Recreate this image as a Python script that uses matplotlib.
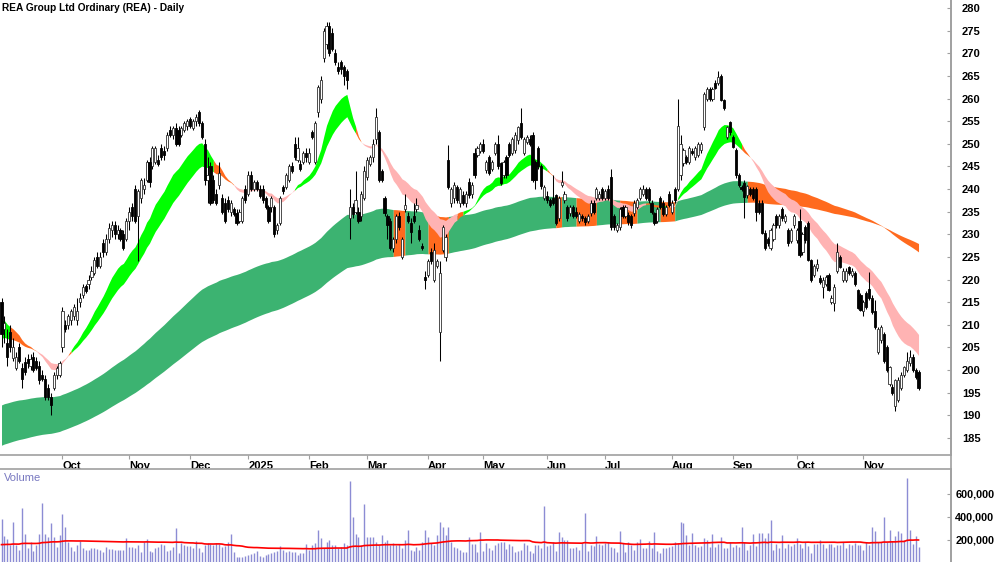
import numpy as np
import pandas as pd
import matplotlib
matplotlib.use('Agg')
import matplotlib.pyplot as plt
from matplotlib.lines import Line2D

plt.rcParams['font.family'] = ['Liberation Sans', 'DejaVu Sans']

title = 'REA Group Ltd Ordinary (REA) - Daily'
first_day, last_day = '2024-09-02', '2025-11-28'
asx_holidays = ['2024-12-25', '2024-12-26', '2025-01-01', '2025-01-27',
                '2025-04-18', '2025-04-21', '2025-04-25', '2025-06-09']

# daily OHLC, one row per month (Sep 2024 .. Nov 2025)
opens = [
    215, 209, 206, 208.5, 202.7, 200.5, 205, 200.5, 201.8, 202.5, 201, 203, 202, 201, 199, 198, 196, 194, 196, 199, 199,
    205, 210, 210, 211, 212, 211, 215, 216.6, 218.5, 219, 220.6, 221.4, 225, 223, 228, 226, 229, 231, 232, 230, 231, 230, 229,
    233, 236, 240, 234, 238, 240, 242, 246, 245, 246, 246.5, 249, 248.5, 249, 253, 252, 253.5, 253, 252, 253, 254,
    255.5, 253.5, 255, 257, 254.5, 250, 242, 245, 242, 239, 241, 238, 237, 237.5, 235, 235.5, 234.6, 233, 233, 240,
    239, 243, 240, 241.5, 240, 240, 238, 236, 236, 236, 231, 232.5, 240.5, 240.5, 242, 245, 250, 246.5, 245.5, 246, 248,
    246, 252.5, 246, 257, 260, 269, 272, 276, 274.5, 270, 267, 268, 267, 266, 233.5, 236, 235, 235, 234, 238,
    242.7, 245.5, 247, 251, 252.6, 244, 238, 234, 233, 227, 229, 234, 225, 235.5, 234, 232.5, 234, 235.5, 231, 227.5, 220.5,
    221, 226, 220, 223, 208.5, 226.5, 225, 246.4, 237, 238, 240.5, 237, 238.6, 237, 241.5, 239, 248, 247.5, 248.5,
    250, 244.2, 247, 244.5, 248, 250, 245.7, 243, 247, 250, 248, 248.6, 250.8, 254.6, 248, 250.5, 251, 252, 246, 249, 245, 238,
    238.5, 237.5, 238, 238.7, 233.6, 241, 237.5, 236, 234.7, 236, 235, 233, 234, 233.5, 233, 234.7, 237, 238, 238, 240,
    238, 240, 242.6, 234, 231, 231.6, 236, 234, 234.3, 234, 234.7, 236, 238, 239, 240, 240, 237, 234.7, 233, 238, 237, 234.5, 239,
    235, 240, 240, 243, 245.8, 247, 246, 248.5, 247, 247.5, 248.6, 253.7, 260, 262, 260, 263.4, 263.4, 265, 259.7, 251.5, 254.8,
    251.5, 248.6, 243, 240.5, 241.4, 238.7, 240, 240, 240, 237, 237, 230.3, 229, 227, 229, 234, 232, 235.5, 233, 231, 228.5, 232,
    228.7, 233, 226, 231.6, 232.5, 224.3, 221, 222.5, 220.3, 218.4, 219, 221, 215, 214.8, 222, 225, 220, 220, 222.8, 221, 221.4, 217.7, 216.6,
    213, 217, 218, 216, 213, 204, 206.6, 208, 205, 197, 196.3, 192, 193.4, 196, 199, 200, 201.5, 203, 200, 199.5,
]
highs = [
    216, 212, 209, 210, 207, 204, 206, 201.5, 203, 203.5, 203.5, 204, 203, 202, 200, 199, 197, 195, 199.5, 201, 202,
    214, 211, 212.5, 213.5, 214.5, 216, 217, 219, 219, 221, 223, 225, 226, 226, 229, 230, 232.5, 233, 233, 232, 231.5, 231, 233.5,
    236, 237, 241, 240, 242.5, 242.5, 246.5, 247, 249.5, 249.5, 247.5, 250, 249.5, 252.5, 254, 254, 254.5, 254, 254, 255, 255.5,
    256, 255.5, 256.5, 257.5, 255, 251, 247, 246, 243, 240, 246, 239, 238, 238.5, 237.5, 236, 235.5, 235.5, 238.5, 241,
    244, 244, 242, 242, 241, 241, 238.5, 236.5, 238.5, 236.5, 232.5, 238.5, 241, 243.5, 245.5, 246, 251.5, 251.5, 246.5, 248.5, 249,
    249, 253, 255, 263, 265, 275.5, 277, 277, 275.5, 271, 268, 268.5, 267.5, 266.5, 240, 237, 244, 236, 239.5, 245,
    247, 247.5, 251, 258, 253, 244.5, 238.5, 234.5, 233.5, 229.5, 234.5, 235, 229.5, 239, 235, 233.5, 237, 238, 232, 228, 222,
    224.5, 227, 228, 224.5, 224, 232, 230, 249.7, 240.5, 241.5, 241, 240.5, 239.5, 239.5, 242.5, 241.5, 249, 249.5, 250.5,
    251, 246.5, 247.5, 246.5, 250.5, 252, 246, 246.5, 247.5, 250.5, 251.5, 252.5, 254, 258, 251.5, 252, 252, 252.5, 246.5, 249.5, 245.5, 241,
    239.5, 238, 243, 239, 238.5, 244, 239.5, 236.5, 236.5, 236.5, 236, 235, 234.5, 234, 234.5, 237.5, 237.5, 240.5, 239.5, 240.5,
    240, 241, 244.5, 234.5, 232.5, 236, 236.5, 236.5, 235, 234.5, 237.5, 238, 240.5, 241, 240.5, 240.5, 237.5, 235, 236, 238.5, 237.5, 236.5, 239.5,
    237.5, 240.5, 260, 252, 249, 247.5, 249.5, 249, 249.5, 250.5, 250.5, 261.5, 262.5, 262.5, 262.5, 264, 266, 265.5, 260, 254, 255,
    252, 249, 243.5, 241, 242, 241, 240.5, 240.5, 240.5, 237.5, 237.5, 231, 229.5, 231.5, 232.5, 234.5, 234.5, 236, 234.5, 231.5, 231.5, 234.5,
    231.5, 235.5, 230.5, 232, 233, 224.5, 223.5, 224.5, 221, 220.5, 221, 221.5, 216.5, 219, 228, 225.5, 222.5, 222.5, 223, 222.5, 222, 218, 217,
    215.5, 217.5, 221.7, 216.5, 215.5, 209.5, 210, 208.5, 205.5, 201, 197, 198, 198.5, 199.5, 201, 204, 204.5, 203.5, 200.5, 200,
]
lows = [
    205, 206, 201, 204, 202, 200, 201.5, 196, 199, 200.5, 200, 199.5, 200, 197, 197.5, 193.5, 193.5, 190, 195.5, 198, 198.5,
    204, 208.5, 209, 210, 211, 210, 214, 216, 217, 218, 220, 221, 222.5, 222.5, 225, 225.5, 228, 229.5, 229, 229, 228.5, 226.5, 228.5,
    231, 233, 232.5, 224, 237, 239, 241.5, 240.5, 244.5, 245.5, 245, 246.5, 246.5, 248.5, 251.5, 251, 249.5, 249.5, 251.5, 252.5, 253,
    253.5, 253, 254, 254, 251, 241, 237, 236.5, 237, 236.5, 240, 234.5, 232.5, 235, 234, 234, 232, 232.5, 232.5, 237,
    238.5, 239.5, 239.5, 239.5, 238, 237, 235.5, 232.5, 235, 229.5, 230, 232, 239, 240, 241.5, 243.5, 246.5, 246, 244, 245.5, 246,
    245.5, 251, 245.5, 256, 259, 268, 271, 269.5, 270.5, 267.5, 265.5, 265.5, 263, 262, 229, 233.5, 234.5, 232.5, 233, 237.5,
    242, 245, 246, 250, 241.5, 241.5, 234, 229, 226.5, 226, 228, 231, 224.5, 235, 232.5, 228, 232.5, 235, 228.5, 226.5, 218,
    220.5, 223.5, 219.5, 222.5, 202, 226, 224, 240, 236, 237, 237, 236, 236.5, 236, 238, 238, 242.5, 247, 248,
    248, 243.5, 243, 244, 247.5, 244.5, 241, 242.5, 242.5, 247, 247.5, 248, 250, 251, 247.5, 250, 249.5, 241.5, 240, 244.5, 240, 237.5,
    237, 236, 236.5, 232, 233, 240.5, 237, 233, 234, 233.5, 233.5, 232.5, 233, 232, 232.5, 234, 234.5, 237.5, 237.5, 237.5,
    237.5, 237.5, 231, 231, 230.5, 231, 233.5, 233.5, 232, 231.5, 234, 235.5, 237.5, 238.5, 237.5, 237, 234.5, 232, 232.5, 235.5, 234, 234, 236,
    234.5, 237, 239.5, 242, 245, 245.5, 245.5, 247.5, 246.5, 247, 248, 253, 259.5, 259.5, 259.5, 262, 263, 259.5, 257.5, 251, 252,
    249, 242.5, 240.5, 239.5, 233.5, 238, 238.5, 237.5, 233, 234.5, 230, 226.5, 227.5, 226.5, 228.5, 231.5, 231.5, 233, 232.5, 227.5, 228, 231.5,
    228, 225, 225.5, 228, 224, 219.5, 220.5, 222, 219, 216, 218.5, 217.5, 214.5, 213, 221.5, 222.5, 219.5, 219.5, 221, 220.5, 218.5, 213.5, 213,
    212, 213.5, 215.5, 212.5, 209, 203.5, 206, 201.5, 199.5, 196.5, 194.5, 191, 193, 195.5, 198.5, 199.5, 201, 199.5, 198, 195.5,
]
closes = [
    208, 210.5, 203, 205, 205, 203, 202, 198, 199.6, 201.5, 202.5, 200, 200.5, 197.8, 198, 194, 194, 192.3, 199, 200.5, 201.6,
    213, 209, 212, 213, 214, 213, 216, 218.4, 217.5, 220, 222, 224.3, 223, 225, 226, 229, 231.5, 232, 230, 231, 229, 227, 233,
    235, 234, 233, 239.5, 242, 241, 246, 241.5, 249, 249, 245.5, 247, 247.5, 252, 252, 253.5, 250, 250, 253.5, 254.5, 255,
    254, 255, 256, 254.5, 251.5, 242, 243, 237, 237.5, 237, 243.5, 235, 233, 235.5, 237, 234.5, 232.5, 235, 238, 237.5,
    243, 240, 241.5, 240, 238.5, 237.5, 236, 233, 238, 230, 232, 238, 239.5, 243, 245, 244, 247, 249, 244.5, 248, 247,
    248, 251.5, 254.5, 262.5, 264, 275, 276, 270, 271, 268, 266, 266.5, 265, 264, 236, 234.5, 237.5, 233, 239, 244,
    246.4, 247, 250, 256, 242, 242, 234.7, 232, 227, 229, 234, 231.6, 229, 236.5, 233, 230.5, 233, 236.5, 229, 227, 220,
    224, 224, 226.5, 224, 221.5, 231.6, 229.4, 240.5, 240, 241, 237.5, 240, 237, 239, 238.7, 241, 243, 249, 250,
    248.5, 246, 243.5, 246, 250, 245, 241.4, 246, 243, 247.5, 251, 252, 253.7, 251.5, 251, 251.5, 250, 242, 242, 245, 240.6, 240.5,
    237.5, 236.5, 237, 232.5, 238, 241.5, 239, 233.5, 236, 234, 234, 234.5, 233.5, 232.7, 234, 237, 235, 240, 239, 238,
    239.5, 238, 231.6, 231.7, 232, 235.5, 234, 236, 232.7, 232, 237, 237.5, 240, 240, 238, 237.6, 235, 232.5, 235.5, 236, 234.5, 236, 236.5,
    237, 237.6, 254, 250, 248.6, 246, 249, 248, 249, 250, 250, 261, 262, 260, 262, 262.3, 264.8, 259.7, 258, 253.7, 252.6,
    249.3, 243, 241, 240, 238.3, 240.6, 239, 238, 235, 235, 230.3, 227, 228, 231, 232, 232, 234, 233.7, 234, 228, 231, 234,
    231, 225.5, 230, 228.7, 224.3, 220, 223, 223.5, 219.5, 220, 220.5, 217.7, 216, 218.4, 226, 222.8, 222, 222, 221.4, 222, 219, 213.7, 213.3,
    215, 214, 216, 212.8, 209.5, 209, 209.5, 202, 200, 200.7, 195, 197.8, 197.8, 199, 200.7, 202, 203, 200, 198.5, 196,
]
# daily volume, thousands of shares
volume_k = [
    382, 237, 208, 156, 353, 156, 113, 475, 249, 127, 185, 104, 156, 249, 524, 249, 229, 345, 229, 142,
    243, 423, 316, 185, 142, 104, 156, 191, 133, 113, 113, 127, 127, 121, 113, 98, 142, 121, 121, 113,
    113, 116, 116, 220, 142, 142, 127, 156, 98, 185, 208, 104, 92, 127, 142, 162, 156, 104, 113, 142,
    302, 84, 171, 156, 147, 147, 127, 191, 133, 92, 156, 171, 162, 156, 171, 162, 142, 147, 179, 249,
    92, 55, 55, 55, 60, 69, 75, 84, 104, 60, 55, 69, 75, 84, 92, 104, 144, 113, 92, 104,
    92, 98, 69, 84, 84, 162, 113, 156, 171, 287, 220, 127, 185, 200, 156, 156, 127, 142, 171, 156,
    713, 403, 249, 229, 156, 510, 229, 229, 229, 185, 156, 243, 185, 200, 156, 171, 156, 162, 127, 200,
    287, 113, 104, 142, 113, 185, 287, 229, 171, 156, 243, 359, 316, 243, 316, 185, 142, 133, 113, 92,
    92, 229, 162, 162, 92, 272, 104, 171, 133, 113, 156, 176, 185, 179, 121, 162, 150, 98, 104, 113,
    171, 156, 104, 84, 156, 156, 127, 498, 147, 156, 179, 104, 266, 229, 200, 200, 133, 133, 142, 113,
    171, 432, 104, 156, 147, 234, 162, 156, 171, 179, 136, 133, 98, 278, 171, 92, 179, 156, 113, 179,
    208, 127, 127, 191, 133, 266, 104, 84, 127, 133, 142, 150, 179, 171, 353, 345, 243, 156, 258, 156,
    142, 147, 214, 200, 142, 249, 142, 162, 229, 127, 133, 179, 142, 156, 142, 316, 179, 113, 156, 249,
    150, 258, 258, 220, 258, 374, 113, 162, 133, 243, 133, 162, 150, 162, 214, 162, 133, 185, 150, 84,
    162, 162, 200, 162, 133, 162, 168, 142, 156, 156, 185, 133, 162, 156, 171, 156, 156, 113, 185, 156,
    316, 278, 185, 185, 403, 185, 287, 191, 234, 278, 258, 200, 742, 287, 162, 237, 142,
]

# ribbon settings: EMA spans and their levels on the first bar
short_spans, short_start = (18, 30), (211.0, 207.0)
long_spans, long_start = (130, 200), (192.3, 183.4)
volume_ma_len, volume_ma_start = 63, 156.0

dates = pd.bdate_range(first_day, last_day, freq='C', holidays=asx_holidays)
o, h, l, c = (np.array(v, dtype=float) for v in (opens, highs, lows, closes))
vol = np.array(volume_k, dtype=float) * 1000
n = len(c)
x = np.arange(n)


def ema(values, span, start):
    a = 2.0 / (span + 1)
    out = [start]
    for v in values[1:]:
        out.append(out[-1] + a * (v - out[-1]))
    return np.array(out)


s_fast = ema(c, short_spans[0], short_start[0])
s_slow = ema(c, short_spans[1], short_start[1])
l_fast = ema(c, long_spans[0], long_start[0])
l_slow = ema(c, long_spans[1], long_start[1])

GREEN = '#00ff00'
ORANGE = '#ff6a1e'
PINK = '#ffb3b3'
SEA = '#3cb371'

# short ribbon: green when both edges are up on 10 bars ago,
# pink when both are down and the fast edge is under the slow one, orange in between
k = 10
short_col = []
for i in range(n):
    j = max(i - k, 0)
    da, db = s_fast[i] - s_fast[j], s_slow[i] - s_slow[j]
    if i < 3 or (da > 0 and db > 0):
        short_col.append(GREEN)
    elif da < 0 and db < 0 and s_fast[i] < s_slow[i]:
        short_col.append(PINK)
    else:
        short_col.append(ORANGE)

# long ribbon: orange once the close has sat below its upper edge for four days
l_top = np.maximum(l_fast, l_slow)
below = c < l_top
long_col = [ORANGE if i >= 3 and below[i - 3:i + 1].all() else SEA for i in range(n)]


def fill_runs(ax, lo, hi, cols):
    start = 0
    for i in range(1, n + 1):
        if i == n or cols[i] != cols[start]:
            sl = slice(start, min(i + 1, n))
            ax.fill_between(x[sl], lo[sl], hi[sl], color=cols[start], lw=0, zorder=1)
            start = i


fig = plt.figure(figsize=(10, 5.62), dpi=100)
ax = fig.add_axes([0, 1 - 455 / 562, 0.951, 455 / 562])
axv = fig.add_axes([0, 0, 0.951, 93 / 562])

fill_runs(ax, np.minimum(l_fast, l_slow), l_top, long_col)
fill_runs(ax, np.minimum(s_fast, s_slow), np.maximum(s_fast, s_slow), short_col)

# candles
ax.vlines(x, l, h, color='black', lw=0.75, zorder=2)
up = c >= o
body = np.maximum(np.abs(c - o), 0.25)
ax.bar(x[up], body[up], bottom=np.minimum(o, c)[up], width=0.74,
       facecolor='white', edgecolor='#303030', lw=0.6, zorder=3)
ax.bar(x[~up], body[~up], bottom=np.minimum(o, c)[~up], width=0.74,
       facecolor='black', edgecolor='black', lw=0.6, zorder=3)

xl = (-1.5 / 2.902, (951 - 1.5) / 2.902)
ax.set_xlim(*xl)
ax.set_ylim(181.24, 281.77)
ax.set_yticks(np.arange(185, 281, 5))
ax.yaxis.tick_right()

month_pos = [i for i in range(1, n) if dates[i].month != dates[i - 1].month]
month_lab = [str(dates[i].year) if dates[i].month == 1 else dates[i].strftime('%b') for i in month_pos]
ax.set_xticks(month_pos)
ax.set_xticklabels(month_lab)
for t in ax.get_xticklabels():
    t.set_horizontalalignment('left')
    t.set_fontweight('bold')
for t in ax.get_yticklabels():
    t.set_fontweight('bold')

gray = '#a0a0a0'
ax.tick_params(axis='y', direction='in', length=3, color=gray, labelsize=8, pad=8)
ax.tick_params(axis='x', direction='out', length=3, color=gray, labelsize=8, pad=1)
for side in ('top', 'left'):
    ax.spines[side].set_visible(False)
for side in ('right', 'bottom'):
    ax.spines[side].set_color(gray)
    ax.spines[side].set_linewidth(1.2)

ax.text(0.002, 0.983, title, transform=ax.transAxes, fontsize=7.3, fontweight='bold',
        va='center', ha='left')

# volume panel
vol_ma = pd.Series([volume_ma_start * 1000] * (volume_ma_len - 1) + list(vol)).rolling(volume_ma_len).mean()
vol_ma = vol_ma.iloc[volume_ma_len - 1:].to_numpy()
axv.vlines(x, 0, vol, color='#8c8cd4', lw=1.0, zorder=2)
axv.plot(x, vol_ma, color='#ff0000', lw=1.2, zorder=3)
axv.set_xlim(*xl)
axv.set_ylim(8.7e3, 817e3)
axv.set_yticks([200000, 400000, 600000])
axv.set_yticklabels(['200,000', '400,000', '600,000'])
axv.yaxis.tick_right()
axv.set_xticks([])
for t in axv.get_yticklabels():
    t.set_fontweight('bold')
axv.tick_params(axis='y', direction='in', length=3, color=gray, labelsize=7.8, pad=3)
for side in ('bottom', 'left'):
    axv.spines[side].set_visible(False)
for side in ('right', 'top'):
    axv.spines[side].set_color(gray)
    axv.spines[side].set_linewidth(1.2)
axv.text(0.004, 0.9, 'Volume', transform=axv.transAxes, fontsize=8, color='#7878c0',
         va='center', ha='left')

fig.add_artist(Line2D([0.951, 0.951], [0, 1], transform=fig.transFigure, color=gray, lw=1.2))

fig.savefig('out.png', dpi=100)
